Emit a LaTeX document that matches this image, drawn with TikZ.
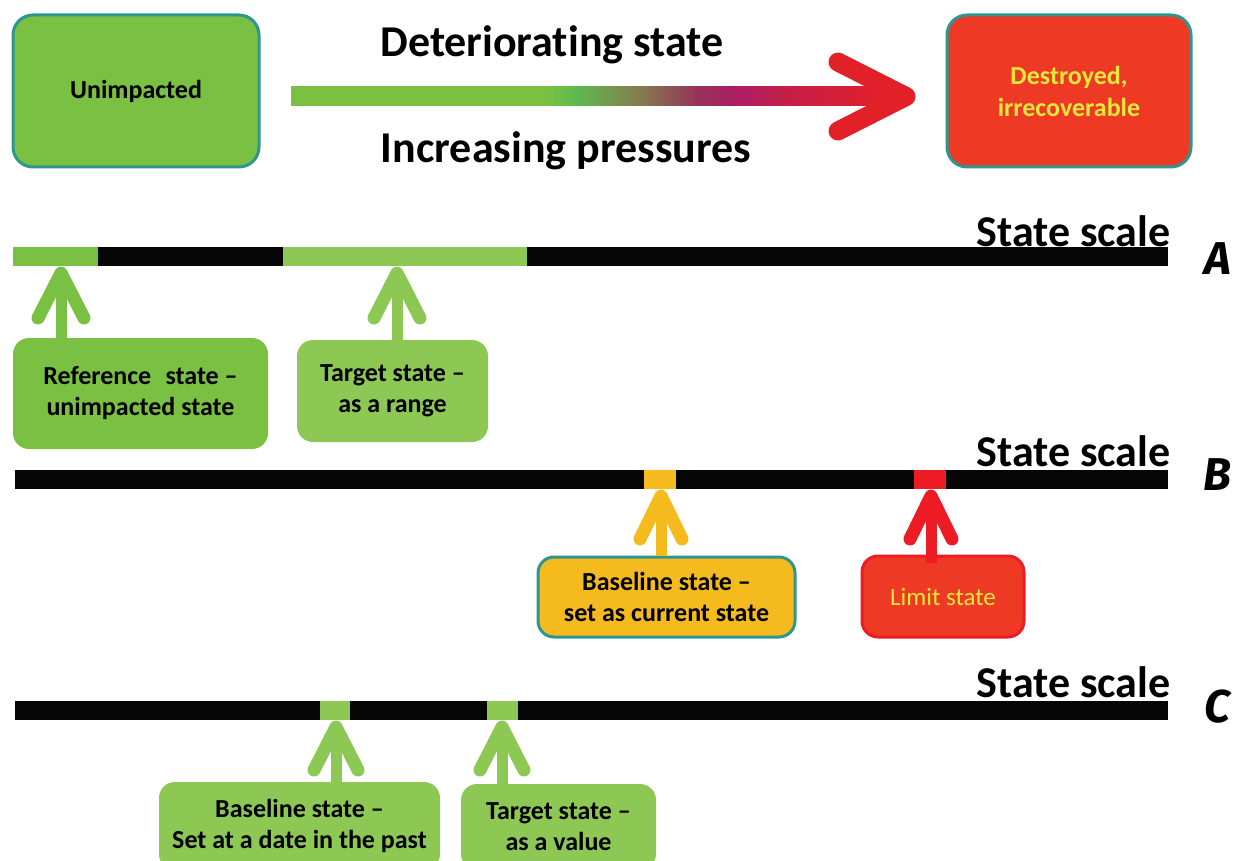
\documentclass[tikz,border=0pt]{standalone}
\usepackage{fontspec}
\setmainfont{Carlito}[Ligatures=NoCommon]
\newfontfamily\letterfont{Fira Sans}
\definecolor{gA}{RGB}{122,193,67}
\definecolor{gL}{RGB}{141,199,84}
\definecolor{gB}{RGB}{95,185,80}
\definecolor{brn}{RGB}{135,120,80}
\definecolor{mag1}{RGB}{150,50,90}
\definecolor{mag}{RGB}{172,30,100}
\definecolor{rd1}{RGB}{200,30,70}
\definecolor{rd}{RGB}{226,32,40}
\definecolor{teal}{RGB}{46,150,145}
\definecolor{redbox}{RGB}{238,58,36}
\definecolor{redc}{RGB}{237,28,36}
\definecolor{orng}{RGB}{245,186,30}
\definecolor{ytext}{RGB}{232,232,60}
\definecolor{barblack}{RGB}{5,5,5}
\pgfdeclarehorizontalshading{deteriorate}{100bp}{color(0bp)=(gA); color(46bp)=(gA); color(48.5bp)=(gB); color(54bp)=(brn); color(58.5bp)=(mag1); color(61.5bp)=(mag); color(66.5bp)=(rd1); color(74bp)=(rd); color(100bp)=(rd)}
\tikzset{
  bigbox/.style={rectangle, rounded corners=20pt, line width=3pt, draw=teal, align=center, inner sep=0pt},
  lblbox/.style={rectangle, rounded corners=16pt, align=center, inner sep=0pt},
  boxfont/.style={font=\fontsize{26}{31}\selectfont\bfseries},
  bigfont/.style={font=\fontsize{44}{48}\selectfont\bfseries},
  scalebar/.style={fill=barblack, draw=none},
  seg/.style={draw=none},
  shaft/.style={line width=11pt},
  barb/.style={line width=13pt, line cap=round, line join=round},
  letter/.style={font=\fontsize{46}{48}\selectfont\letterfont\bfseries\itshape},
}
\begin{document}
\begin{tikzpicture}[x=1pt,y=-1pt]
\useasboundingbox (0,0) rectangle (1234,861);
% top row
\node[bigbox, fill=gA, minimum width=246pt, minimum height=152pt, font=\fontsize{26}{32}\selectfont\bfseries] (unimp) at (136,91) {Unimpacted};
\node[bigbox, fill=redbox, minimum width=244pt, minimum height=152pt, text=ytext, font=\fontsize{26}{32}\selectfont\bfseries] (destr) at (1069,91) {Destroyed,\\irrecoverable};
\coordinate (tip) at (906,96.5);
\shade[shading=deteriorate] (291,87) rectangle (898,106);
\draw[line width=19pt, line cap=round, line join=round, draw=rd] (838,62) -- (tip) -- (838,131);
\node[bigfont, anchor=base] (det) at (552,57) {Deteriorating state};
\node[bigfont, anchor=base] (inc) at (566,163) {Increasing pressures};
% A
\fill[scalebar] (13,247) rectangle (1168,266);
\node[seg, fill=gA, minimum width=85pt, minimum height=19pt, inner sep=0pt, anchor=north west] (segA1) at (13,247) {};
\node[seg, fill=gL, minimum width=244pt, minimum height=19pt, inner sep=0pt, anchor=north west] (segA2) at (283,247) {};
\node[bigfont, anchor=base east] (ssA) at (1174,246) {State scale};
\node[letter] (lA) at (1218,259) {A};
\node[lblbox, fill=gA, boxfont, minimum width=255pt, minimum height=111pt] (ref) at (140.5,393.5) {Reference\hspace{0.55em}state --\\unimpacted state};
\node[lblbox, fill=gL, boxfont, minimum width=191pt, minimum height=102pt] (tgtA) at (392.5,391) {Target state --\\as a range};
\coordinate (tA1) at (61,273);
\coordinate (tA2) at (397,273);
\draw[shaft, gA] (ref.north -| tA1) -- ([yshift=-8pt]tA1);
\draw[barb, gA] ([shift={(-23,45)}]tA1) -- (tA1) -- ([shift={(23,45)}]tA1);
\draw[shaft, gL] (tgtA.north -| tA2) -- ([yshift=-8pt]tA2);
\draw[barb, gL] ([shift={(-23,45)}]tA2) -- (tA2) -- ([shift={(23,45)}]tA2);
% B
\fill[scalebar] (15,470) rectangle (1168,489);
\node[seg, fill=orng, minimum width=32pt, minimum height=19pt, inner sep=0pt, anchor=north west] (segB1) at (644,470) {};
\node[seg, fill=redc, minimum width=32pt, minimum height=19pt, inner sep=0pt, anchor=north west] (segB2) at (914,470) {};
\node[bigfont, anchor=base east] (ssB) at (1174,466) {State scale};
\node[letter] (lB) at (1217,475) {B};
\node[lblbox, fill=orng, draw=teal, line width=3pt, boxfont, minimum width=257pt, minimum height=80pt] (base) at (666.5,597) {Baseline state --\\set as current state};
\node[lblbox, fill=redbox, draw=redc, line width=3pt, text=ytext, font=\fontsize{25}{31}\selectfont, minimum width=162pt, minimum height=81pt] (lim) at (943,596.5) {Limit state};
\coordinate (tB1) at (661,496);
\coordinate (tB2) at (931,496);
\draw[shaft, orng] (base.north -| tB1) -- ([yshift=-8pt]tB1);
\draw[barb, orng] ([shift={(-21,43)}]tB1) -- (tB1) -- ([shift={(21,43)}]tB1);
\draw[shaft, redc] ([yshift=-8pt]lim.north -| tB2) -- ([yshift=-8pt]tB2);
\draw[barb, redc] ([shift={(-21,43)}]tB2) -- (tB2) -- ([shift={(21,43)}]tB2);
% C
\fill[scalebar] (15,701) rectangle (1168,720);
\node[seg, fill=gL, minimum width=30pt, minimum height=19pt, inner sep=0pt, anchor=north west] (segC1) at (320,701) {};
\node[seg, fill=gL, minimum width=31pt, minimum height=19pt, inner sep=0pt, anchor=north west] (segC2) at (487,701) {};
\node[bigfont, anchor=base east] (ssC) at (1174,697) {State scale};
\node[letter] (lC) at (1217,707) {C};
\node[lblbox, fill=gL, boxfont, minimum width=281pt, minimum height=88pt] (baseC) at (299.5,826) {Baseline state --\\Set at a date in the past};
\node[lblbox, fill=gL, boxfont, minimum width=195pt, minimum height=86pt] (tgtC) at (558.5,827) {Target state --\\as a value};
\coordinate (tC1) at (336,727);
\coordinate (tC2) at (502,727);
\draw[shaft, gL] (baseC.north -| tC1) -- ([yshift=-8pt]tC1);
\draw[barb, gL] ([shift={(-22,43)}]tC1) -- (tC1) -- ([shift={(22,43)}]tC1);
\draw[shaft, gL] (tgtC.north -| tC2) -- ([yshift=-8pt]tC2);
\draw[barb, gL] ([shift={(-22,43)}]tC2) -- (tC2) -- ([shift={(22,43)}]tC2);
\end{tikzpicture}
\end{document}
